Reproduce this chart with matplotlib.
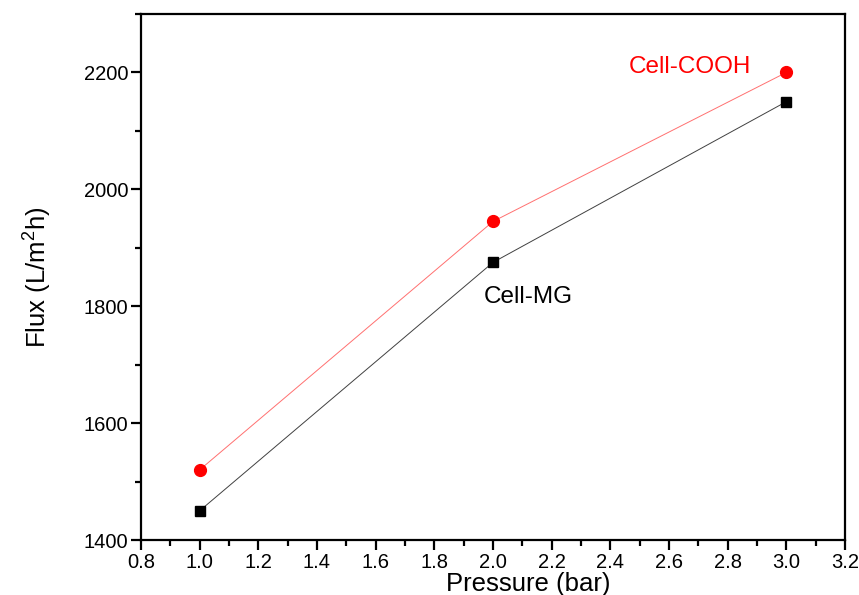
import matplotlib
matplotlib.use("Agg")
import matplotlib.pyplot as plt
from matplotlib.ticker import MultipleLocator

plt.rcParams['font.family'] = ['Liberation Sans', 'DejaVu Sans']
plt.rcParams['mathtext.fontset'] = 'custom'
plt.rcParams['mathtext.rm'] = 'Liberation Sans'

pressure = [1.0, 2.0, 3.0]
flux_cooh = [1520, 1945, 2200]
flux_mg = [1450, 1875, 2150]

fig = plt.figure(figsize=(8.59, 5.95), dpi=100)
ax = fig.add_axes([141/859, 1 - 540/595, (845-141)/859, (540-14)/595])

ax.plot(pressure, flux_mg, color='#404040', lw=0.7)
ax.plot(pressure, flux_mg, lw=0, marker='s', ms=7, mfc='black', mec='black')
ax.plot(pressure, flux_cooh, color='#ff7070', lw=0.7)
ax.plot(pressure, flux_cooh, color='red', lw=0, marker='o', ms=8.5, mfc='red', mec='red')

ax.set_xlim(0.8, 3.2)
ax.set_ylim(1400, 2300)
ax.xaxis.set_major_locator(MultipleLocator(0.2))
ax.xaxis.set_minor_locator(MultipleLocator(0.1))
ax.yaxis.set_major_locator(MultipleLocator(200))
ax.yaxis.set_minor_locator(MultipleLocator(100))
ax.set_yticks([1400, 1600, 1800, 2000, 2200])
ax.set_xticklabels([f"{v:.1f}" for v in ax.get_xticks()])

for s in ax.spines.values():
    s.set_linewidth(1.6)
ax.tick_params(which='major', direction='out', length=7, width=1.6, labelsize=14.5, pad=2)
ax.tick_params(which='minor', direction='out', length=4.5, width=1.6)

ax.set_xlabel('Pressure (bar)', fontsize=18.5, labelpad=0, x=0.55)
ax.set_ylabel('Flux (L/m$^{\\mathregular{2}}$h)', fontsize=18.5, labelpad=22)

ax.text(2.67, 2210, 'Cell-COOH', color='red', fontsize=17.5, ha='center', va='center')
ax.text(2.12, 1816, 'Cell-MG', color='black', fontsize=17.5, ha='center', va='center')

fig.savefig('out.png', dpi=100)
